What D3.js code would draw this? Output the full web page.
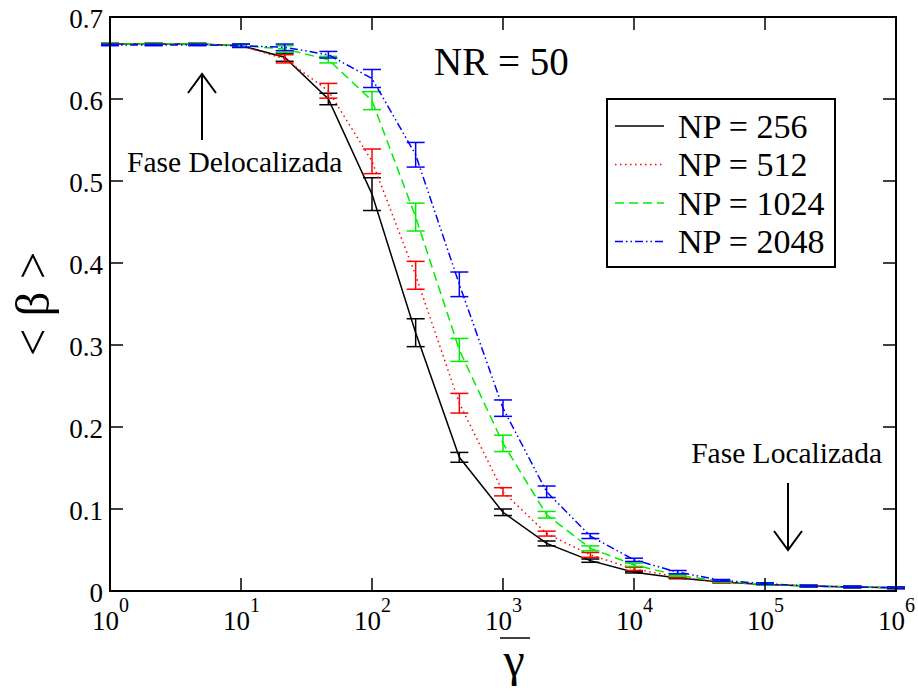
<!DOCTYPE html>
<html><head><meta charset="utf-8">
<script src="https://cdn.jsdelivr.net/npm/d3@7"></script>
<style>body{margin:0;background:#fff}svg{display:block}</style>
</head><body><svg id="c" width="918" height="697"></svg>
<script>
const gammaX = [1, 2.154, 4.642, 10, 21.54, 46.42, 100, 215.4, 464.2, 1000, 2154, 4642, 1e4, 2.154e4, 4.642e4, 1e5, 2.154e5, 4.642e5, 1e6];
const np256  = [0.667,0.667,0.667,0.665,0.651,0.600,0.484,0.315,0.163,0.096,0.058,0.037,0.023,0.016,0.011,0.008,0.006,0.005,0.004];
const np512  = [0.667,0.667,0.667,0.665,0.649,0.610,0.524,0.385,0.229,0.121,0.070,0.044,0.027,0.017,0.011,0.008,0.006,0.005,0.004];
const np1024 = [0.667,0.667,0.667,0.665,0.661,0.648,0.598,0.456,0.294,0.180,0.093,0.052,0.032,0.019,0.012,0.008,0.006,0.005,0.004];
const np2048 = [0.666,0.666,0.666,0.665,0.663,0.654,0.625,0.532,0.374,0.223,0.121,0.067,0.038,0.023,0.013,0.009,0.006,0.005,0.004];
const err256  = [0.001,0.001,0.001,0.002,0.005,0.007,0.020,0.017,0.006,0.004,0.003,0.002,0.001,0.001,0.001,0.001,0.001,0.001,0.001];
const err512  = [0.001,0.001,0.001,0.002,0.005,0.009,0.015,0.017,0.012,0.005,0.003,0.003,0.002,0.001,0.001,0.001,0.001,0.001,0.001];
const err1024 = [0.001,0.001,0.001,0.002,0.004,0.004,0.011,0.017,0.014,0.010,0.004,0.003,0.002,0.001,0.001,0.001,0.001,0.001,0.001];
const err2048 = [0.001,0.001,0.001,0.002,0.004,0.004,0.011,0.015,0.015,0.010,0.007,0.003,0.002,0.002,0.001,0.001,0.001,0.001,0.001];
const seriesNames = ["NP = 256","NP = 512","NP = 1024","NP = 2048"];
const yTicks = [0,0.1,0.2,0.3,0.4,0.5,0.6,0.7];
const xTicks = [1,10,100,1000,1e4,1e5,1e6];

const series = [
  {name:seriesNames[0], v:np256, e:err256, color:"#000000", dash:null},
  {name:seriesNames[1], v:np512, e:err512, color:"#ff0000", dash:"1.5,3.5"},
  {name:seriesNames[2], v:np1024, e:err1024, color:"#00ee00", dash:"9,5"},
  {name:seriesNames[3], v:np2048, e:err2048, color:"#0000ff", dash:"8,3,1.5,3,1.5,3"}
];

const FONT = "'Liberation Serif', 'Times New Roman', Tinos, 'DejaVu Serif', serif";
const L=110, R=896, T=17, B=591;
const svg = d3.select("#c").attr("font-family", FONT);
const x = d3.scaleLog().domain([1,1e6]).range([L,R]);
const y = d3.scaleLinear().domain([0,0.7]).range([B,T]);

// series
const line = d3.line().x((d,i)=>x(gammaX[i])).y(d=>y(d));
const g = svg.append("g");
series.forEach(s=>{
  g.append("path").attr("d", line(s.v)).attr("fill","none").attr("stroke",s.color)
   .attr("stroke-width",1.5).attr("stroke-dasharray",s.dash);
  s.v.forEach((v,i)=>{
    const cx=x(gammaX[i]), y1=y(v+s.e[i]), y2=y(v-s.e[i]);
    g.append("line").attr("x1",cx).attr("x2",cx).attr("y1",y1).attr("y2",y2).attr("stroke",s.color).attr("stroke-width",1.5);
    [y1,y2].forEach(yy=>g.append("line").attr("x1",cx-9).attr("x2",cx+9).attr("y1",yy).attr("y2",yy).attr("stroke",s.color).attr("stroke-width",1.5));
  });
});

// frame and ticks
svg.append("rect").attr("x",L).attr("y",T).attr("width",R-L).attr("height",B-T).attr("fill","none").attr("stroke","#000").attr("stroke-width",2);
const tl=13;
yTicks.forEach(t=>{
  svg.append("line").attr("x1",L).attr("x2",L+tl).attr("y1",y(t)).attr("y2",y(t)).attr("stroke","#000").attr("stroke-width",1.5);
  svg.append("line").attr("x1",R).attr("x2",R-tl).attr("y1",y(t)).attr("y2",y(t)).attr("stroke","#000").attr("stroke-width",1.5);
  svg.append("text").attr("x",103).attr("y",y(t)+11).attr("text-anchor","end").attr("font-size",27).text(t===0?"0":d3.format(".1f")(t));
});
xTicks.forEach(t=>{
  svg.append("line").attr("x1",x(t)).attr("x2",x(t)).attr("y1",B).attr("y2",B-tl).attr("stroke","#000").attr("stroke-width",1.5);
  svg.append("line").attr("x1",x(t)).attr("x2",x(t)).attr("y1",T).attr("y2",T+tl).attr("stroke","#000").attr("stroke-width",1.5);
  const tx=svg.append("text").attr("x",x(t)-18).attr("y",630).attr("font-size",27);
  tx.append("tspan").text("10");
  tx.append("tspan").attr("dy",-18).attr("font-size",20).text(String(Math.round(Math.log10(t))));
});

// axis labels
svg.append("text").attr("x",514).attr("y",676).attr("text-anchor","middle").attr("font-size",48).text("γ");
svg.append("line").attr("x1",500).attr("x2",530).attr("y1",638).attr("y2",638).attr("stroke","#000").attr("stroke-width",1.5);
svg.append("text").attr("transform","translate(49,304) rotate(-90)").attr("text-anchor","middle").attr("font-size",49).text("< β >");

// annotations
svg.append("text").attr("x",434).attr("y",75).attr("font-size",39).text("NR = 50");
svg.append("text").attr("x",127).attr("y",172).attr("font-size",29.5).text("Fase Delocalizada");
svg.append("text").attr("x",882).attr("y",463).attr("text-anchor","end").attr("font-size",29.5).text("Fase Localizada");
function arrow(xp,y0,y1){
  svg.append("line").attr("x1",xp).attr("x2",xp).attr("y1",y0).attr("y2",y1).attr("stroke","#000").attr("stroke-width",2);
  const d=y1<y0?1:-1;
  svg.append("path").attr("d",`M${xp-14},${y1+d*19}L${xp},${y1}L${xp+14},${y1+d*19}`).attr("fill","none").attr("stroke","#000").attr("stroke-width",2);
}
arrow(202,140,74);
arrow(788,483,550);

// legend
const lg=svg.append("g");
lg.append("rect").attr("x",607).attr("y",99).attr("width",228).attr("height",168).attr("fill","#fff").attr("stroke","#000").attr("stroke-width",2);
series.forEach((s,i)=>{
  const yy=126+i*38.5;
  lg.append("line").attr("x1",615).attr("x2",664).attr("y1",yy).attr("y2",yy).attr("stroke",s.color).attr("stroke-width",1.5).attr("stroke-dasharray",s.dash);
  lg.append("text").attr("x",678).attr("y",yy+11.5).attr("font-size",34).text(s.name);
});
</script></body></html>
